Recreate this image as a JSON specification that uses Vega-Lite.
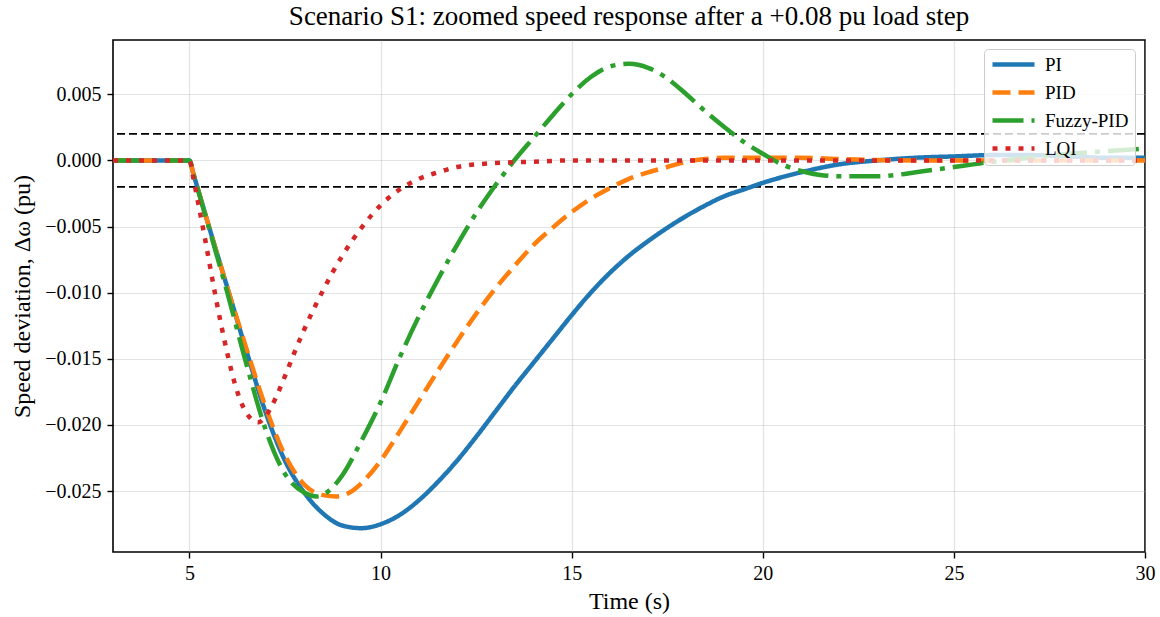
{
  "$schema": "https://vega.github.io/schema/vega-lite/v6.json",
  "width": 1032,
  "height": 512,
  "autosize": {"type": "none"},
  "padding": {"left": 113, "top": 40, "right": 15, "bottom": 65},
  "title": {"text": "Scenario S1: zoomed speed response after a +0.08 pu load step", "font": "Liberation Serif", "fontSize": 27, "fontWeight": "normal", "color": "#000", "anchor": "middle", "offset": 9},
  "config": {
    "font": "Liberation Serif",
    "view": {"stroke": "#000", "strokeWidth": 1.6},
    "axis": {"domain": false, "grid": true, "gridColor": "#b0b0b0", "gridOpacity": 0.35, "gridWidth": 1.2, "tickColor": "#000", "tickWidth": 1.4, "tickSize": 6, "labelFont": "Liberation Serif", "labelFontSize": 20, "labelColor": "#000", "titleFont": "Liberation Serif", "titleFontSize": 24, "titleFontWeight": "normal", "titleColor": "#000", "labelFlush": false, "labelOverlap": false},
    "legend": {"orient": "none", "legendX": 871, "legendY": 9, "fillColor": "rgba(255,255,255,0.8)", "strokeColor": "#cccccc", "cornerRadius": 4, "padding": 6, "symbolType": "M-1,0H1", "symbolSize": 1764, "symbolStrokeWidth": 4.5, "clipHeight": 19, "labelFont": "Liberation Serif", "labelFontSize": 19, "labelColor": "#000", "labelOffset": 8, "rowPadding": 8}
  },
  "layer": [
    {
      "data": {"values": [{"ref": 0.002}, {"ref": -0.002}]},
      "mark": {"type": "rule", "color": "#000", "strokeWidth": 1.8, "strokeDash": [8, 4]},
      "encoding": {"y": {"field": "ref", "type": "quantitative", "scale": {"domain": [-0.0296, 0.0091], "nice": false, "zero": false}}}
    },
    {
      "data": {"values": [
        {"t": 3, "s": "PI", "v": 0}, {"t": 5, "s": "PI", "v": 0}, {"t": 5.1, "s": "PI", "v": -0.00098}, {"t": 5.5, "s": "PI", "v": -0.0049}, {"t": 6, "s": "PI", "v": -0.0097}, {"t": 6.5, "s": "PI", "v": -0.0145}, {"t": 7, "s": "PI", "v": -0.0191}, {"t": 7.5, "s": "PI", "v": -0.0227}, {"t": 8, "s": "PI", "v": -0.0251}, {"t": 8.5, "s": "PI", "v": -0.0267}, {"t": 9, "s": "PI", "v": -0.0276}, {"t": 9.5, "s": "PI", "v": -0.0278}, {"t": 10, "s": "PI", "v": -0.0275}, {"t": 10.5, "s": "PI", "v": -0.0268}, {"t": 11, "s": "PI", "v": -0.0257}, {"t": 11.5, "s": "PI", "v": -0.0243}, {"t": 12, "s": "PI", "v": -0.0227}, {"t": 12.5, "s": "PI", "v": -0.0209}, {"t": 13, "s": "PI", "v": -0.019}, {"t": 13.5, "s": "PI", "v": -0.0171}, {"t": 14, "s": "PI", "v": -0.0153}, {"t": 14.5, "s": "PI", "v": -0.0135}, {"t": 15, "s": "PI", "v": -0.0117}, {"t": 15.5, "s": "PI", "v": -0.01}, {"t": 16, "s": "PI", "v": -0.0085}, {"t": 16.5, "s": "PI", "v": -0.0072}, {"t": 17, "s": "PI", "v": -0.0061}, {"t": 17.5, "s": "PI", "v": -0.0051}, {"t": 18, "s": "PI", "v": -0.0042}, {"t": 18.5, "s": "PI", "v": -0.0034}, {"t": 19, "s": "PI", "v": -0.0027}, {"t": 19.5, "s": "PI", "v": -0.0022}, {"t": 20, "s": "PI", "v": -0.0017}, {"t": 21, "s": "PI", "v": -0.0009}, {"t": 22, "s": "PI", "v": -0.0003}, {"t": 23, "s": "PI", "v": 0.0}, {"t": 24, "s": "PI", "v": 0.0002}, {"t": 25, "s": "PI", "v": 0.0003}, {"t": 26, "s": "PI", "v": 0.0004}, {"t": 27, "s": "PI", "v": 0.0004}, {"t": 28, "s": "PI", "v": 0.0003}, {"t": 29, "s": "PI", "v": 0.0002}, {"t": 30, "s": "PI", "v": 0.0002},
        {"t": 3, "s": "PID", "v": 0}, {"t": 5, "s": "PID", "v": 0}, {"t": 5.1, "s": "PID", "v": -0.00098}, {"t": 5.5, "s": "PID", "v": -0.0049}, {"t": 6, "s": "PID", "v": -0.0097}, {"t": 6.5, "s": "PID", "v": -0.0143}, {"t": 7, "s": "PID", "v": -0.0187}, {"t": 7.5, "s": "PID", "v": -0.0223}, {"t": 8, "s": "PID", "v": -0.0245}, {"t": 8.5, "s": "PID", "v": -0.0253}, {"t": 8.85, "s": "PID", "v": -0.0254}, {"t": 9.25, "s": "PID", "v": -0.025}, {"t": 9.5, "s": "PID", "v": -0.0244}, {"t": 10, "s": "PID", "v": -0.0227}, {"t": 10.5, "s": "PID", "v": -0.0205}, {"t": 11, "s": "PID", "v": -0.0182}, {"t": 11.5, "s": "PID", "v": -0.0159}, {"t": 12, "s": "PID", "v": -0.0137}, {"t": 12.5, "s": "PID", "v": -0.0116}, {"t": 13, "s": "PID", "v": -0.0097}, {"t": 13.5, "s": "PID", "v": -0.008}, {"t": 14, "s": "PID", "v": -0.0064}, {"t": 14.5, "s": "PID", "v": -0.0051}, {"t": 15, "s": "PID", "v": -0.0039}, {"t": 15.5, "s": "PID", "v": -0.0029}, {"t": 16, "s": "PID", "v": -0.0021}, {"t": 16.5, "s": "PID", "v": -0.0014}, {"t": 17, "s": "PID", "v": -0.0009}, {"t": 17.5, "s": "PID", "v": -0.0005}, {"t": 18, "s": "PID", "v": -0.0001}, {"t": 18.5, "s": "PID", "v": 0.0001}, {"t": 19, "s": "PID", "v": 0.0002}, {"t": 20, "s": "PID", "v": 0.0002}, {"t": 21, "s": "PID", "v": 0.0002}, {"t": 22, "s": "PID", "v": 0.0001}, {"t": 24, "s": "PID", "v": 0.0}, {"t": 30, "s": "PID", "v": 0.0},
        {"t": 3, "s": "Fuzzy-PID", "v": 0}, {"t": 5, "s": "Fuzzy-PID", "v": 0}, {"t": 5.1, "s": "Fuzzy-PID", "v": -0.001}, {"t": 5.5, "s": "Fuzzy-PID", "v": -0.005}, {"t": 6, "s": "Fuzzy-PID", "v": -0.0101}, {"t": 6.5, "s": "Fuzzy-PID", "v": -0.0155}, {"t": 7, "s": "Fuzzy-PID", "v": -0.0204}, {"t": 7.5, "s": "Fuzzy-PID", "v": -0.0237}, {"t": 8, "s": "Fuzzy-PID", "v": -0.0251}, {"t": 8.35, "s": "Fuzzy-PID", "v": -0.0254}, {"t": 8.75, "s": "Fuzzy-PID", "v": -0.0247}, {"t": 9, "s": "Fuzzy-PID", "v": -0.0238}, {"t": 9.5, "s": "Fuzzy-PID", "v": -0.0212}, {"t": 10, "s": "Fuzzy-PID", "v": -0.0183}, {"t": 10.5, "s": "Fuzzy-PID", "v": -0.0149}, {"t": 11, "s": "Fuzzy-PID", "v": -0.0118}, {"t": 11.5, "s": "Fuzzy-PID", "v": -0.009}, {"t": 12, "s": "Fuzzy-PID", "v": -0.0064}, {"t": 12.5, "s": "Fuzzy-PID", "v": -0.004}, {"t": 13, "s": "Fuzzy-PID", "v": -0.0019}, {"t": 13.5, "s": "Fuzzy-PID", "v": 0.0}, {"t": 14, "s": "Fuzzy-PID", "v": 0.0017}, {"t": 14.5, "s": "Fuzzy-PID", "v": 0.0034}, {"t": 15, "s": "Fuzzy-PID", "v": 0.005}, {"t": 15.5, "s": "Fuzzy-PID", "v": 0.0063}, {"t": 16, "s": "Fuzzy-PID", "v": 0.0071}, {"t": 16.5, "s": "Fuzzy-PID", "v": 0.0073}, {"t": 17, "s": "Fuzzy-PID", "v": 0.007}, {"t": 17.5, "s": "Fuzzy-PID", "v": 0.0062}, {"t": 18, "s": "Fuzzy-PID", "v": 0.005}, {"t": 18.5, "s": "Fuzzy-PID", "v": 0.0037}, {"t": 19, "s": "Fuzzy-PID", "v": 0.0025}, {"t": 19.5, "s": "Fuzzy-PID", "v": 0.0014}, {"t": 20, "s": "Fuzzy-PID", "v": 0.0005}, {"t": 20.5, "s": "Fuzzy-PID", "v": -0.0003}, {"t": 21, "s": "Fuzzy-PID", "v": -0.0008}, {"t": 21.5, "s": "Fuzzy-PID", "v": -0.0011}, {"t": 22, "s": "Fuzzy-PID", "v": -0.0012}, {"t": 22.5, "s": "Fuzzy-PID", "v": -0.0012}, {"t": 23, "s": "Fuzzy-PID", "v": -0.0012}, {"t": 23.5, "s": "Fuzzy-PID", "v": -0.0011}, {"t": 24, "s": "Fuzzy-PID", "v": -0.0009}, {"t": 24.5, "s": "Fuzzy-PID", "v": -0.0007}, {"t": 25, "s": "Fuzzy-PID", "v": -0.0005}, {"t": 25.5, "s": "Fuzzy-PID", "v": -0.0003}, {"t": 26, "s": "Fuzzy-PID", "v": -0.0001}, {"t": 27, "s": "Fuzzy-PID", "v": 0.0002}, {"t": 28, "s": "Fuzzy-PID", "v": 0.0005}, {"t": 29, "s": "Fuzzy-PID", "v": 0.0007}, {"t": 30, "s": "Fuzzy-PID", "v": 0.0009},
        {"t": 3, "s": "LQI", "v": 0}, {"t": 5, "s": "LQI", "v": 0}, {"t": 5.1, "s": "LQI", "v": -0.0013}, {"t": 5.2, "s": "LQI", "v": -0.0028}, {"t": 5.4, "s": "LQI", "v": -0.0058}, {"t": 5.6, "s": "LQI", "v": -0.009}, {"t": 5.8, "s": "LQI", "v": -0.012}, {"t": 6, "s": "LQI", "v": -0.0147}, {"t": 6.2, "s": "LQI", "v": -0.017}, {"t": 6.4, "s": "LQI", "v": -0.0186}, {"t": 6.6, "s": "LQI", "v": -0.0195}, {"t": 6.8, "s": "LQI", "v": -0.0198}, {"t": 7, "s": "LQI", "v": -0.0193}, {"t": 7.25, "s": "LQI", "v": -0.018}, {"t": 7.5, "s": "LQI", "v": -0.0163}, {"t": 7.75, "s": "LQI", "v": -0.0145}, {"t": 8, "s": "LQI", "v": -0.0128}, {"t": 8.5, "s": "LQI", "v": -0.0098}, {"t": 9, "s": "LQI", "v": -0.0072}, {"t": 9.5, "s": "LQI", "v": -0.0051}, {"t": 10, "s": "LQI", "v": -0.0034}, {"t": 10.5, "s": "LQI", "v": -0.0022}, {"t": 11, "s": "LQI", "v": -0.0014}, {"t": 11.5, "s": "LQI", "v": -0.0009}, {"t": 12, "s": "LQI", "v": -0.0005}, {"t": 13, "s": "LQI", "v": -0.0002}, {"t": 14, "s": "LQI", "v": -0.0001}, {"t": 15, "s": "LQI", "v": 0.0}, {"t": 30, "s": "LQI", "v": 0.0}
      ]},
      "mark": {"type": "line", "strokeWidth": 4.5, "interpolate": "monotone", "strokeCap": "butt", "strokeJoin": "round"},
      "encoding": {
        "x": {"field": "t", "type": "quantitative", "scale": {"domain": [3, 30], "nice": false, "zero": false}, "axis": {"values": [5, 10, 15, 20, 25, 30], "title": "Time (s)", "labelPadding": 5, "titlePadding": 6}},
        "y": {"field": "v", "type": "quantitative", "scale": {"domain": [-0.0296, 0.0091], "nice": false, "zero": false}, "axis": {"values": [-0.025, -0.02, -0.015, -0.01, -0.005, 0, 0.005], "format": ".3f", "title": "Speed deviation, Δω (pu)", "labelPadding": 6, "titlePadding": 10}},
        "color": {"field": "s", "type": "nominal", "title": null, "scale": {"domain": ["PI", "PID", "Fuzzy-PID", "LQI"], "range": ["#1f77b4", "#ff7f0e", "#2ca02c", "#d62728"]}},
        "strokeDash": {"field": "s", "type": "nominal", "title": null, "scale": {"domain": ["PI", "PID", "Fuzzy-PID", "LQI"], "range": [[1, 0], [18, 8], [31, 8, 5, 8], [5, 8]]}}
      }
    }
  ]
}
